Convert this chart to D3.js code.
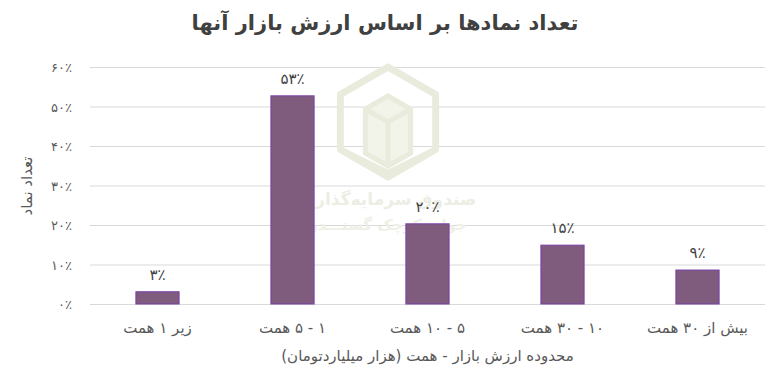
<html>
<head>
<meta charset="utf-8">
<script src="https://d3js.org/d3.v7.min.js"></script>
<style>
  body { margin: 0; background: #fff; }
  text { font-family: "DejaVu Sans", "Noto Sans", sans-serif; }
</style>
</head>
<body>
<svg width="780" height="387"></svg>
<script>
// data
var categories = ["زیر ۱ همت", "۱ - ۵ همت", "۵ - ۱۰ همت", "۱۰ - ۳۰ همت", "بیش از ۳۰ همت"]
var shares = [3.1, 52.7, 20.3, 14.9, 8.6]
var shareLabels = ["۳٪", "۵۳٪", "۲۰٪", "۱۵٪", "۹٪"]
var yTicks = [0, 10, 20, 30, 40, 50, 60]
var yTickLabels = ["۰٪", "۱۰٪", "۲۰٪", "۳۰٪", "۴۰٪", "۵۰٪", "۶۰٪"]

const svg = d3.select("svg")
const plotLeft = 90, plotRight = 765, plotTop = 67, plotBottom = 304

var x = d3.scaleBand().domain(categories).range([plotLeft, plotRight]).paddingInner(0.68).paddingOuter(0.34)
var y = d3.scaleLinear().domain([0, 60]).range([plotBottom, plotTop])

// title
svg.append("text")
  .attr("x", 385).attr("y", 30)
  .attr("text-anchor", "middle")
  .attr("direction", "rtl")
  .style("font-size", "21px").style("font-weight", "bold")
  .style("fill", "#404040")
  .text("تعداد نمادها بر اساس ارزش بازار آنها")

// gridlines
svg.append("g")
  .selectAll("line").data(yTicks).enter().append("line")
  .attr("x1", plotLeft).attr("x2", plotRight)
  .attr("y1", d => y(d) + 0.5).attr("y2", d => y(d) + 0.5)
  .style("stroke", "#d9d9d9").style("stroke-width", 1)

// watermark (faint logo behind the bars)
var wm = svg.append("g")
var cx = 388, cy = 122, r = 55
var hex = d3.range(6).map(i => {
  var a = Math.PI / 3 * i - Math.PI / 2
  return [cx + r * Math.cos(a), cy + r * Math.sin(a)]
})
wm.append("polygon").attr("points", hex.join(" "))
  .style("fill", "none").style("stroke", "#e9ecdd").style("stroke-width", 7).style("stroke-linejoin", "round")
var s = 26
var cube = [[cx, cy - s], [cx + s * 0.87, cy - s / 2], [cx + s * 0.87, cy + s / 2 + 18], [cx, cy + s + 18], [cx - s * 0.87, cy + s / 2 + 18], [cx - s * 0.87, cy - s / 2]]
wm.append("polygon").attr("points", cube.join(" "))
  .style("fill", "#f2f4ea").style("stroke", "#e9ecdd").style("stroke-width", 5)
wm.append("polyline").attr("points", [[cx - s * 0.87, cy - s / 2], [cx, cy], [cx + s * 0.87, cy - s / 2]].join(" "))
  .style("fill", "none").style("stroke", "#e9ecdd").style("stroke-width", 5)
wm.append("line").attr("x1", cx).attr("y1", cy).attr("x2", cx).attr("y2", cy + s + 18)
  .style("stroke", "#e9ecdd").style("stroke-width", 5)
wm.append("polyline").attr("points", [[cx - r * 0.87, cy + r / 2], [cx, cy + r - 4], [cx + r * 0.87, cy + r / 2]].join(" "))
  .style("fill", "none").style("stroke", "#e9ecdd").style("stroke-width", 6)
wm.append("text").attr("x", cx).attr("y", 205).attr("text-anchor", "middle").attr("direction", "rtl")
  .style("font-size", "17px").style("font-weight", "bold").style("fill", "#eceee3")
  .text("صندوق سرمایه‌گذاری")
wm.append("text").attr("x", cx).attr("y", 230).attr("text-anchor", "middle").attr("direction", "rtl")
  .style("font-size", "15px").style("font-weight", "bold").style("fill", "#eef0e6")
  .text("جوانه کوچک گستـــدر")

// bars
svg.append("g")
  .selectAll("rect").data(shares).enter().append("rect")
  .attr("x", (d, i) => x(categories[i]))
  .attr("y", d => y(d))
  .attr("width", x.bandwidth())
  .attr("height", d => plotBottom - y(d))
  .style("fill", "#7f5b7d")
  .style("stroke", "#7a3fa8")
  .style("stroke-width", 1)

// value labels
svg.append("g")
  .selectAll("text").data(shares).enter().append("text")
  .attr("x", (d, i) => x(categories[i]) + x.bandwidth() / 2)
  .attr("y", d => y(d) - 12)
  .attr("text-anchor", "middle")
  .style("font-size", "15px").style("fill", "#404040")
  .text((d, i) => shareLabels[i])

// y tick labels
svg.append("g")
  .selectAll("text").data(yTicks).enter().append("text")
  .attr("x", 72).attr("y", d => y(d) + 5)
  .attr("text-anchor", "end")
  .style("font-size", "13px").style("fill", "#595959")
  .text((d, i) => yTickLabels[i])

// category labels
svg.append("g")
  .selectAll("text").data(categories).enter().append("text")
  .attr("x", d => x(d) + x.bandwidth() / 2)
  .attr("y", 333)
  .attr("text-anchor", "middle")
  .attr("direction", "rtl")
  .style("font-size", "15px").style("fill", "#595959")
  .text(d => d)

// axis titles
svg.append("text")
  .attr("x", (plotLeft + plotRight) / 2).attr("y", 361)
  .attr("text-anchor", "middle").attr("direction", "rtl")
  .style("font-size", "15px").style("fill", "#595959")
  .text("محدوده ارزش بازار - همت (هزار میلیاردتومان)")

svg.append("text")
  .attr("transform", "translate(32,186) rotate(-90)")
  .attr("text-anchor", "middle").attr("direction", "rtl")
  .style("font-size", "15px").style("fill", "#595959")
  .text("تعداد نماد")
</script>
</body>
</html>
